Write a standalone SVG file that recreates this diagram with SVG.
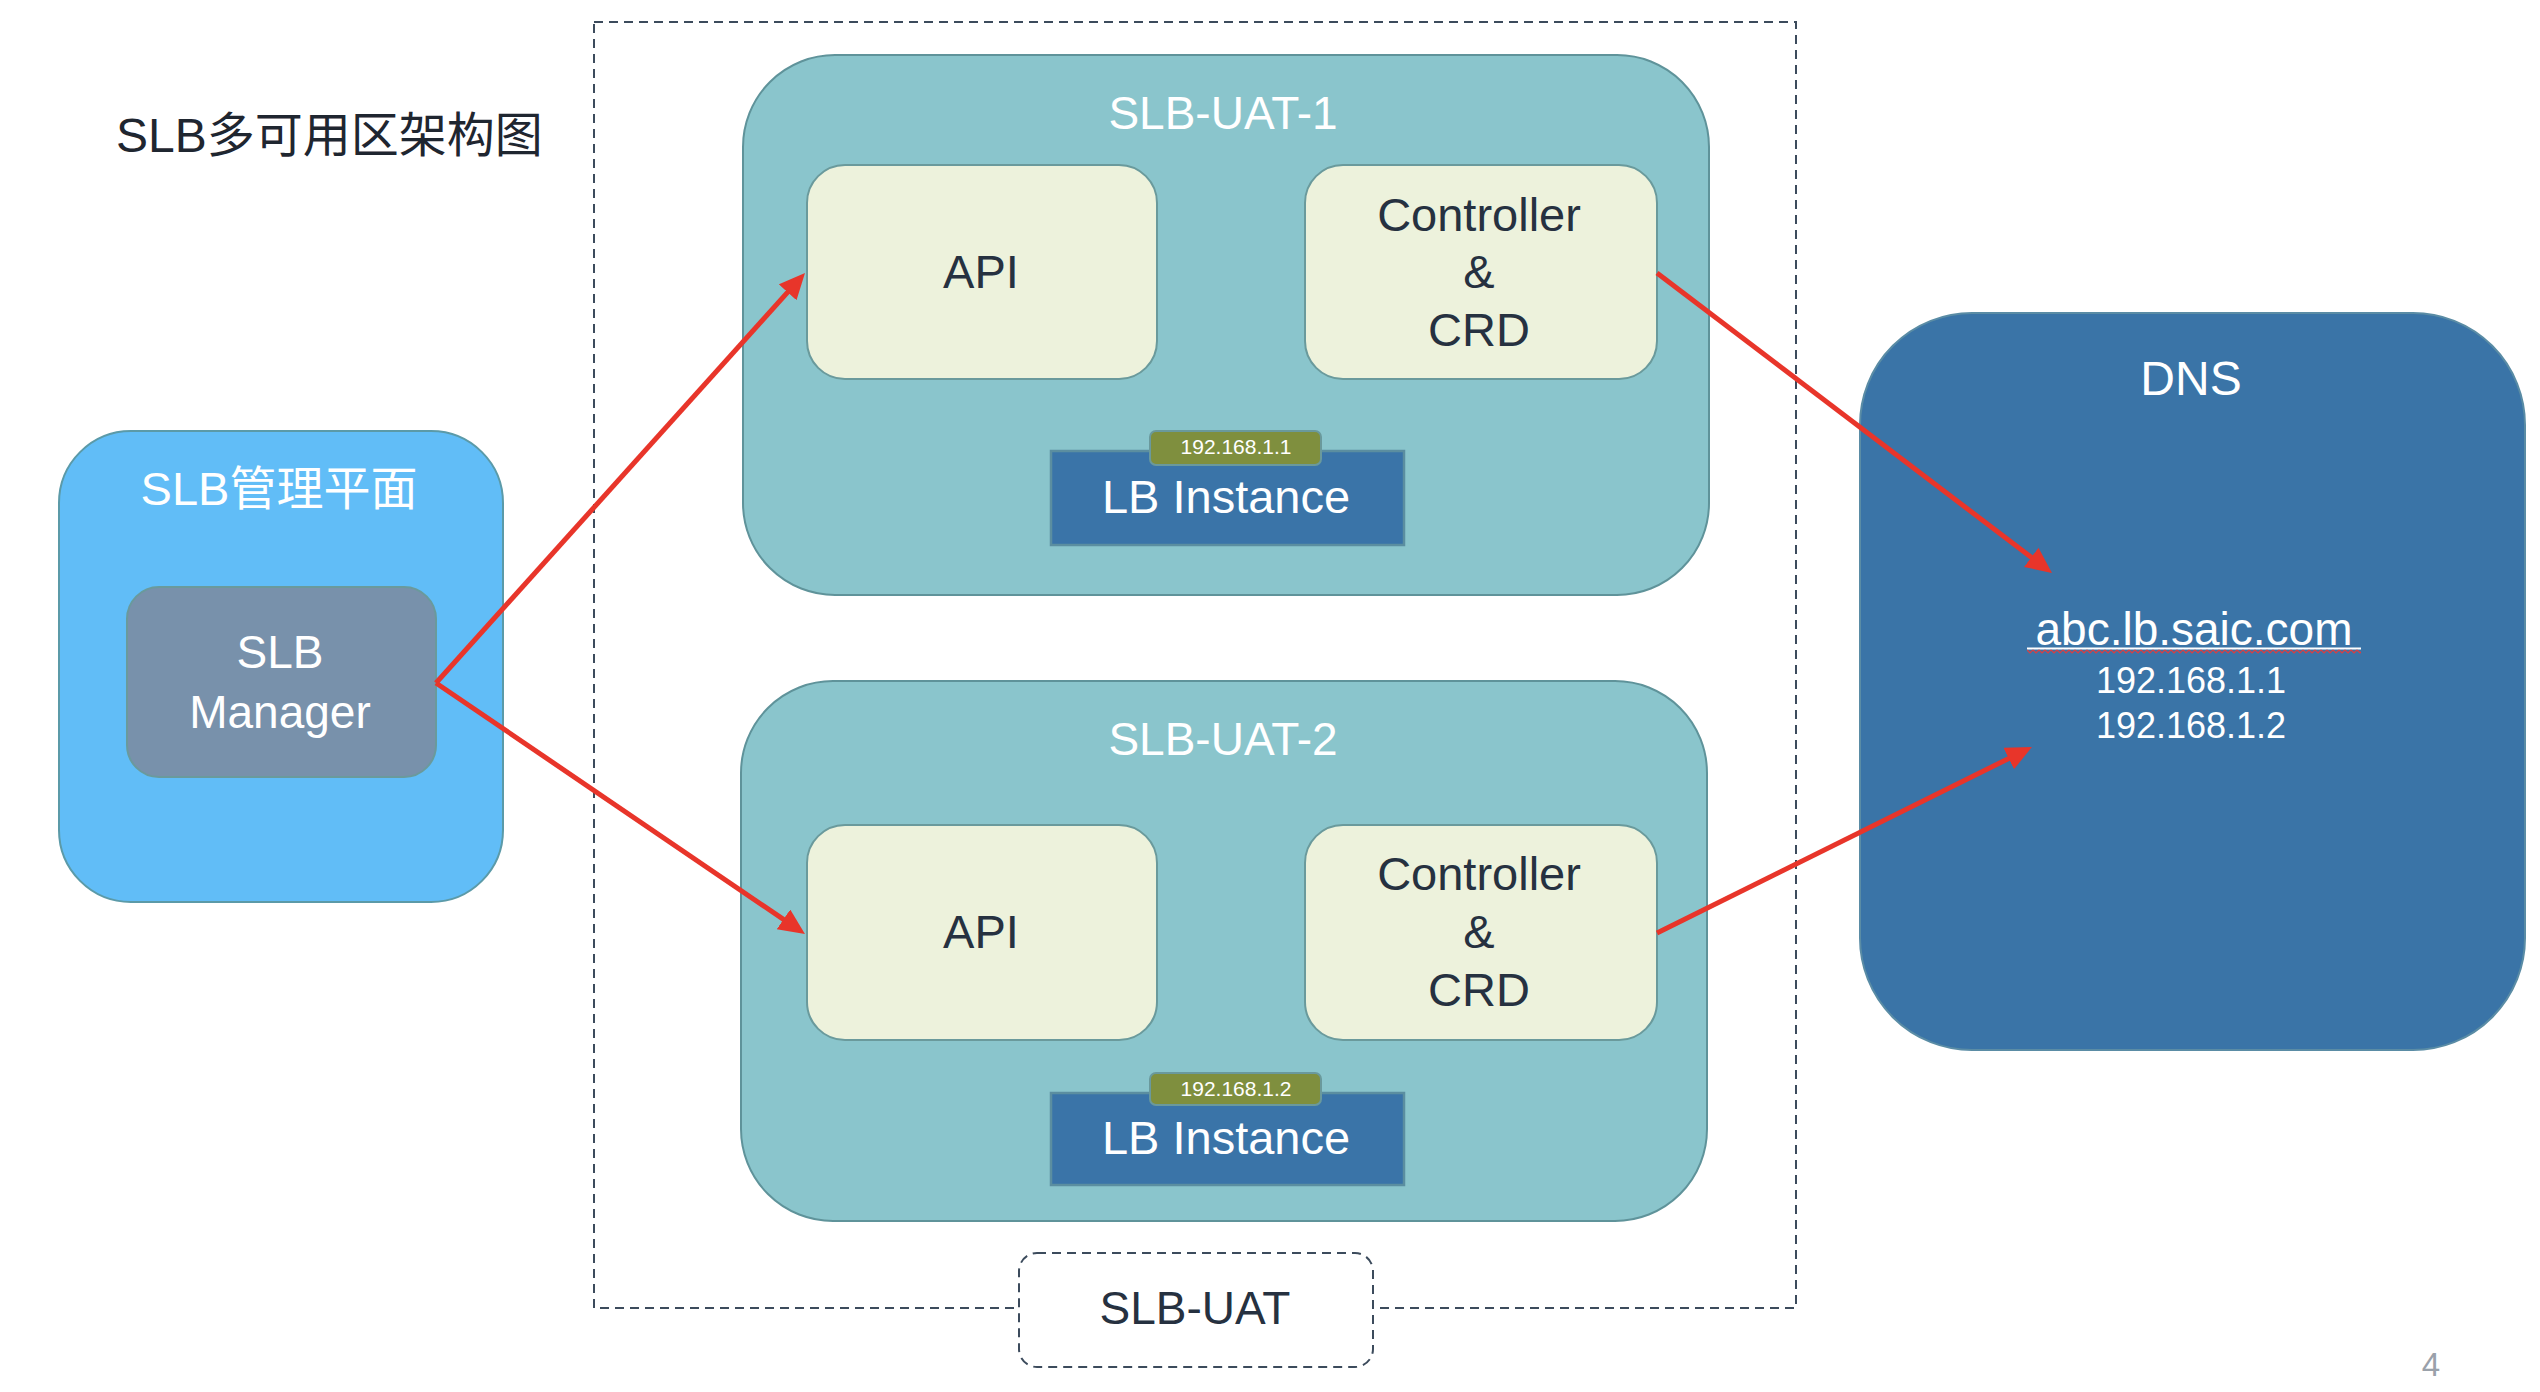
<svg xmlns="http://www.w3.org/2000/svg" width="2540" height="1392" viewBox="0 0 2540 1392">
<style>
  text { font-family: "Liberation Sans", Arial, "Noto Sans CJK SC", sans-serif; }
  .zone { fill: #8ac5cc; stroke: #5f939a; stroke-width: 2; }
  .comp { fill: #edf2dc; stroke: #6a9a9c; stroke-width: 2; }
  .lb { fill: #3a74a8; stroke: #5b8ea0; stroke-width: 2.5; }
  .tag { fill: #7f8f3e; stroke: #6a999c; stroke-width: 2; }
  .dash { fill: none; stroke: #3c4b5c; stroke-width: 2; stroke-dasharray: 9 6; }
  .wt { fill: #ffffff; text-anchor: middle; }
  .dk { fill: #263140; text-anchor: middle; }
  .conn { fill: none; stroke: #e8352a; stroke-width: 5; }
</style>
<defs>
  <marker id="arr" markerUnits="userSpaceOnUse" markerWidth="30" markerHeight="30" refX="16" refY="12" orient="auto">
    <path d="M0,0 L26,12 L0,24 z" fill="#e8352a"/>
  </marker>
  <pattern id="squig" patternUnits="userSpaceOnUse" x="2027" y="649" width="6" height="5">
    <polyline points="0,1 3,4 6,1" fill="none" stroke="#e23b3b" stroke-width="1.2"/>
  </pattern>
</defs>
<rect width="2540" height="1392" fill="#ffffff"/>

<text x="116" y="152" font-size="48" fill="#1f2630">SLB多可用区架构图</text>

<g id="slb-uat-frame">
  <rect class="dash" x="594" y="22" width="1202" height="1286"/>
</g>

<g id="mgmt-plane">
  <rect x="59" y="431" width="444" height="471" rx="72" ry="72" fill="#61bdf7" stroke="#5b9aa8" stroke-width="2"/>
  <text class="wt" x="279" y="505" font-size="47">SLB管理平面</text>
</g>
<g id="slb-manager">
  <rect x="127" y="587" width="309" height="190" rx="32" ry="32" fill="#7891ab" stroke="#6a9a9c" stroke-width="2"/>
  <text class="wt" x="280" y="668" font-size="46">SLB</text>
  <text class="wt" x="280" y="728" font-size="46">Manager</text>
</g>

<g id="slb-uat-1">
  <rect class="zone" x="743" y="55" width="966" height="540" rx="92" ry="92"/>
  <text class="wt" x="1223" y="129" font-size="46">SLB-UAT-1</text>
</g>
<g id="api-1">
  <rect class="comp" x="807" y="165" width="350" height="214" rx="38" ry="38"/>
  <text class="dk" x="981" y="288" font-size="47">API</text>
</g>
<g id="controller-1">
  <rect class="comp" x="1305" y="165" width="352" height="214" rx="38" ry="38"/>
  <text class="dk" x="1479" y="231" font-size="47">Controller</text>
  <text class="dk" x="1479" y="288" font-size="47">&amp;</text>
  <text class="dk" x="1479" y="346" font-size="47">CRD</text>
</g>
<g id="lb-instance-1">
  <rect class="lb" x="1051" y="451" width="353" height="94"/>
  <text class="wt" x="1226" y="513" font-size="47">LB Instance</text>
  <rect class="tag" x="1150" y="431" width="171" height="34" rx="6" ry="6"/>
  <text class="wt" x="1236" y="454" font-size="21">192.168.1.1</text>
</g>

<g id="slb-uat-2">
  <rect class="zone" x="741" y="681" width="966" height="540" rx="92" ry="92"/>
  <text class="wt" x="1223" y="755" font-size="46">SLB-UAT-2</text>
</g>
<g id="api-2">
  <rect class="comp" x="807" y="825" width="350" height="215" rx="38" ry="38"/>
  <text class="dk" x="981" y="948" font-size="47">API</text>
</g>
<g id="controller-2">
  <rect class="comp" x="1305" y="825" width="352" height="215" rx="38" ry="38"/>
  <text class="dk" x="1479" y="890" font-size="47">Controller</text>
  <text class="dk" x="1479" y="948" font-size="47">&amp;</text>
  <text class="dk" x="1479" y="1006" font-size="47">CRD</text>
</g>
<g id="lb-instance-2">
  <rect class="lb" x="1051" y="1093" width="353" height="92"/>
  <text class="wt" x="1226" y="1154" font-size="47">LB Instance</text>
  <rect class="tag" x="1150" y="1073" width="171" height="32" rx="6" ry="6"/>
  <text class="wt" x="1236" y="1096" font-size="21">192.168.1.2</text>
</g>

<g id="slb-uat-label">
  <rect x="1019" y="1253" width="354" height="114" rx="18" ry="18" fill="#ffffff" stroke="#3c4b5c" stroke-width="2" stroke-dasharray="9 6"/>
  <text class="dk" x="1195" y="1324" font-size="46">SLB-UAT</text>
</g>

<g id="dns">
  <rect x="1860" y="313" width="665" height="737" rx="112" ry="112" fill="#3a74a7" stroke="#5a8ca5" stroke-width="2"/>
  <text class="wt" x="2191" y="395" font-size="48">DNS</text>
  <text class="wt" x="2194" y="645" font-size="46">abc.lb.saic.com</text>
  <line x1="2027" y1="648.5" x2="2361" y2="648.5" stroke="#ffffff" stroke-width="2"/>
  <rect x="2027" y="649" width="334" height="5" fill="url(#squig)"/>
  <text class="wt" x="2191" y="693" font-size="36">192.168.1.1</text>
  <text class="wt" x="2191" y="738" font-size="36">192.168.1.2</text>
</g>

<g id="connectors">
  <path class="conn" d="M436,683 L798.3,280.4" marker-end="url(#arr)"/>
  <path class="conn" d="M436,683 L796.7,928.4" marker-end="url(#arr)"/>
  <path class="conn" d="M1657,273 L2044,567" marker-end="url(#arr)"/>
  <path class="conn" d="M1657,933 L2023,751.4" marker-end="url(#arr)"/>
</g>

<text x="2431" y="1376" font-size="33" fill="#9aa1aa" text-anchor="middle">4</text>
</svg>
